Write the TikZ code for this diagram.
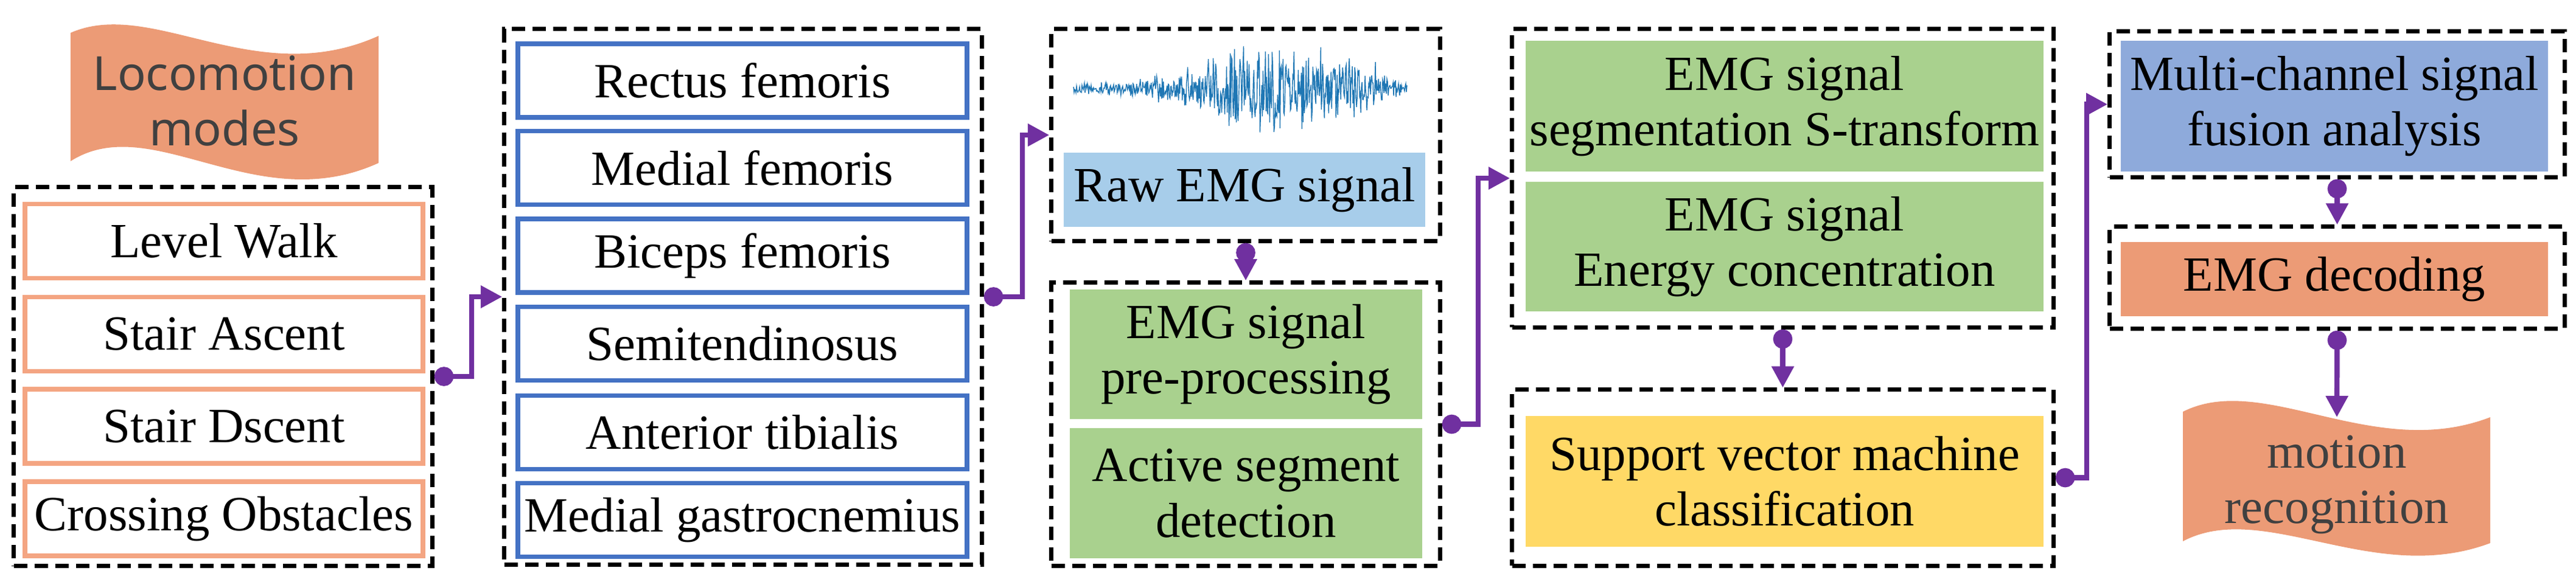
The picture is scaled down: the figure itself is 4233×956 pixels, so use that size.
\documentclass[tikz,border=0pt]{standalone}
\usepackage{fontspec}
\setmainfont{Liberation Serif}
\newfontfamily\sansf{Noto Sans}
\usetikzlibrary{arrows.meta}
\definecolor{flowc}{HTML}{7030A0}
\definecolor{orgb}{HTML}{F4A582}
\definecolor{blub}{HTML}{4472C4}
\definecolor{grn}{HTML}{A9D18E}
\definecolor{ylw}{HTML}{FFD966}
\definecolor{lblu}{HTML}{A7CDEA}
\definecolor{mblu}{HTML}{8EAADB}
\definecolor{orf}{HTML}{EC9B76}
\definecolor{wave}{HTML}{1F77B4}
\definecolor{gtxt}{HTML}{404040}
\begin{document}
\begin{tikzpicture}[x=0.01cm,y=-0.01cm,
  txt/.style={font=\rmfamily\fontsize{23}{26}\selectfont, align=center},
  dbox/.style={draw, dash pattern=on 0.22cm off 0.12cm, line width=2pt, inner sep=0pt},
  obox/.style={txt, draw=orgb, line width=2.2pt, minimum width=6.54cm, minimum height=1.22cm, inner sep=0pt},
  bbox/.style={txt, draw=blub, line width=2.2pt, minimum width=7.38cm, minimum height=1.21cm, inner sep=0pt},
  fbox/.style={txt, inner sep=0pt},
  flow/.style={draw=flowc, line width=2.4pt, {Circle[length=9pt]}-{Triangle[length=10pt,width=10pt]}},
  banner/.style={fill=orf}]
\useasboundingbox (0,0) rectangle (4233,956);

% Locomotion banner
\fill[banner] (116,54) .. controls (250,-5) and (420,150) .. (622,59) -- (622,268) .. controls (420,360) and (250,180) .. (116,265) -- cycle;
\node[font=\sansf\fontsize{22}{26}\selectfont, text=gtxt, align=center] (loco) at (369,166) {Locomotion\\modes};

% left group
\node[dbox, minimum width=6.87cm, minimum height=6.22cm] (Ld) at (366.5,619) {};
\node[obox] (lw) at (368,396.5) {Level Walk};
\node[obox] (sa) at (368,549.5) {Stair Ascent};
\node[obox] (sd) at (368,701) {Stair Dscent};
\node[obox] (co) at (368,853) {Crossing Obstacles};

% muscles
\node[dbox, minimum width=7.84cm, minimum height=8.80cm] (Md) at (1221,488) {};
\node[bbox] (m1) at (1220,132.5) {Rectus femoris};
\node[bbox] (m2) at (1220,276) {Medial femoris};
\node[bbox] (m3) at (1220,420.5) {Biceps femoris};
\node[bbox] (m4) at (1220,565) {Semitendinosus};
\node[bbox] (m5) at (1220,711) {Anterior tibialis};
\node[bbox] (m6) at (1220,855) {Medial gastrocnemius};

% raw EMG
\node[dbox, minimum width=6.38cm, minimum height=3.48cm] (Rd) at (2047,222) {};
\pgfmathsetseed{7}
\draw[wave, line width=0.4pt] plot[domain=1764:2312, samples=550]
  (\x,{146+(6+40*exp(-((\x-2070)/120)^2)+20*exp(-((\x-2220)/50)^2))*rand*(1+1.6*rnd*rnd)});
\node[fbox, fill=lblu, minimum width=5.94cm, minimum height=1.22cm] (raw) at (2045,312) {Raw EMG signal};

% preprocessing
\node[dbox, minimum width=6.38cm, minimum height=4.65cm] (Pd) at (2047,697.5) {};
\node[fbox, fill=grn, minimum width=5.79cm, minimum height=2.13cm] (p1) at (2047.5,582.5) {EMG signal\\pre-processing};
\node[fbox, fill=grn, minimum width=5.79cm, minimum height=2.14cm] (p2) at (2047.5,811) {Active segment\\detection};

% segmentation
\node[dbox, minimum width=8.89cm, minimum height=4.90cm] (Sd) at (2929.5,293) {};
\node[fbox, fill=grn, minimum width=8.51cm, minimum height=2.15cm] (s1) at (2932.5,174.5) {EMG signal\\segmentation S-transform};
\node[fbox, fill=grn, minimum width=8.51cm, minimum height=2.13cm] (s2) at (2932.5,405.5) {EMG signal\\Energy concentration};

% SVM
\node[dbox, minimum width=8.89cm, minimum height=2.89cm] (Vd) at (2929.5,785.5) {};
\node[fbox, fill=ylw, minimum width=8.51cm, minimum height=2.15cm] (svm) at (2932.5,791.5) {Support vector machine\\classification};

% fusion
\node[dbox, minimum width=7.47cm, minimum height=2.39cm] (Fd) at (3840.5,171.5) {};
\node[fbox, fill=mblu, minimum width=7.02cm, minimum height=2.15cm] (fu) at (3836,174.5) {Multi-channel signal\\fusion analysis};

% decoding
\node[dbox, minimum width=7.47cm, minimum height=1.67cm] (Dd) at (3840.5,456.5) {};
\node[fbox, fill=orf, minimum width=7.02cm, minimum height=1.22cm] (dec) at (3836,459) {EMG decoding};

% motion recognition banner
\fill[banner] (3587,677) .. controls (3720,610) and (3900,760) .. (4092,686) -- (4092,893) .. controls (3900,965) and (3720,820) .. (3587,890) -- cycle;
\node[txt, text=gtxt] (mr) at (3840,797) {motion\\recognition};
\coordinate (mtop) at (3840,686);

% connectors
\draw[flow] (Ld.east) -- ++(61,0) |- (Md.west);
\draw[flow] (Md.east) -- ++(63,0) |- (Rd.west);
\draw[flow] (Rd.south) -- (Pd.north);
\draw[flow] (Pd.east) -- ++(59,0) |- (Sd.west);
\draw[flow] (Sd.south) -- (Vd.north);
\draw[flow] (Vd.east) -- ++(51,0) |- (Fd.west);
\draw[flow] (Fd.south) -- (Dd.north);
\draw[flow] (Dd.south) -- (mtop);
\end{tikzpicture}
\end{document}
